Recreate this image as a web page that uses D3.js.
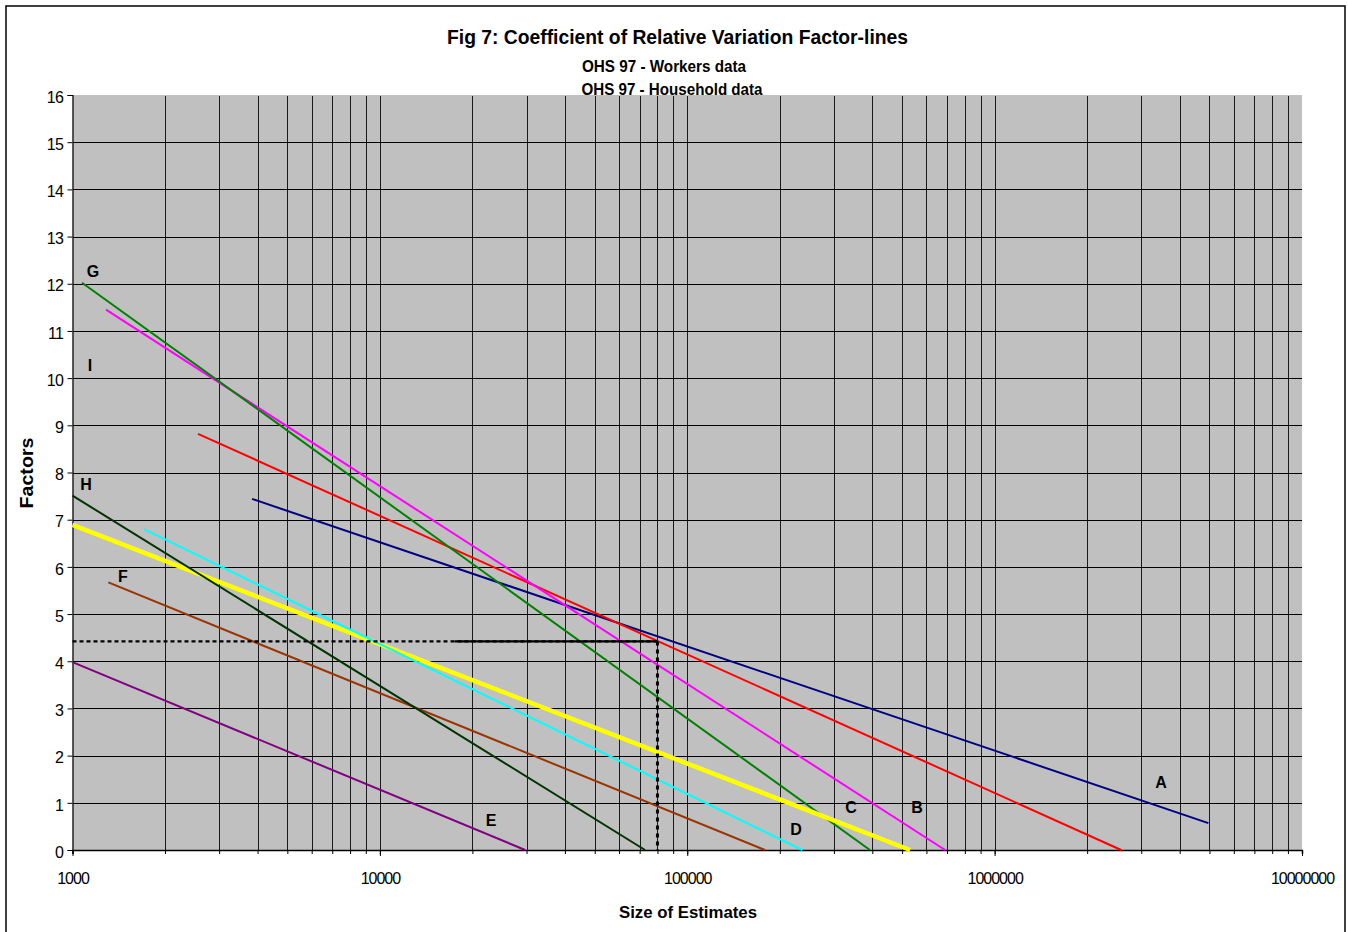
<!DOCTYPE html>
<html>
<head>
<meta charset="utf-8">
<script src="https://cdn.jsdelivr.net/npm/d3@7"></script>
<style>
  html, body { margin: 0; padding: 0; background: #fff; }
  svg { display: block; font-family: "Liberation Sans", Arial, sans-serif; }
</style>
</head>
<body>
<svg id="chart" width="1348" height="932"></svg>
<script>
// ---------- data ----------
const titleText = "Fig 7: Coefficient of Relative Variation Factor-lines";
const subtitle1 = "OHS 97 - Workers data";
const subtitle2 = "OHS 97 - Household data";
const xAxisTitle = "Size of Estimates";
const yAxisTitle = "Factors";

const xTickValues = [1000, 10000, 100000, 1000000, 10000000];
const xTickLabels = ["1000", "10000", "100000", "1000000", "10000000"];
const yTickValues = [0,1,2,3,4,5,6,7,8,9,10,11,12,13,14,15,16];

// factor lines: start/end points (size of estimate, factor)
const lineNames = ["A", "red", "B", "C", "yellow", "D", "F", "H", "E"];
const lineX = [
  [3840, 4960000],
  [2560, 2580000],
  [1285, 690000],
  [1074, 393000],
  [1000, 531000],
  [1710, 237000],
  [1308, 179000],
  [1000, 72900],
  [1000, 29700]
];
const lineY = [
  [7.44, 0.57],
  [8.82, 0],
  [11.45, 0],
  [12.02, 0],
  [6.89, 0],
  [6.80, 0],
  [5.67, 0],
  [7.51, 0],
  [3.98, 0]
];

// line letter labels
const labelText = ["A", "B", "C", "D", "E", "F", "G", "H", "I"];
const labelX = [3480000, 559000, 341000, 226000, 23000, 1459, 1166, 1107, 1140];
const labelY = [1.44, 0.91, 0.91, 0.45, 0.64, 5.81, 12.26, 7.76, 10.28];

// reading example: estimate 80000 -> factor 4.42
const refX = [1000, 17500, 80000];
const refY = 4.42;

// ---------- styles ----------
const lineColors = ["#000080", "#FF0000", "#FF00FF", "#008000", "#FFFF00", "#00FFFF", "#993300", "#003300", "#800080"];
const lineWidths = [2, 2, 2, 2, 4.5, 2, 2, 2, 2];

// ---------- layout ----------
const svg = d3.select("#chart");
const plot = { left: 72.5, right: 1302, top: 95, bottom: 850 };

const x = d3.scaleLog().domain([1000, 10000000]).range([plot.left, plot.right]);
const y = d3.scaleLinear().domain([0, 16]).range([plot.bottom, plot.top]);

// outer frame
svg.append("rect")
  .attr("x", 6).attr("y", 6).attr("width", 1339).attr("height", 940)
  .attr("fill", "#fff").attr("stroke", "#000").attr("stroke-width", 1.5);

// plot background
svg.append("rect")
  .attr("x", plot.left).attr("y", plot.top)
  .attr("width", plot.right - plot.left).attr("height", plot.bottom - plot.top)
  .attr("fill", "#C0C0C0");

// vertical grid (log minors + majors)
const allXTicks = [];
for (let d = 1000; d < 10000000; d *= 10) {
  for (let k = 1; k <= 9; k++) allXTicks.push(d * k);
}
allXTicks.push(10000000);

const gGrid = svg.append("g").attr("shape-rendering", "crispEdges");
gGrid.selectAll("line.vg")
  .data(allXTicks.filter(v => v > 1000 && v < 10000000))
  .join("line")
  .attr("class", "vg")
  .attr("x1", d => Math.round(x(d)) + 0.5).attr("x2", d => Math.round(x(d)) + 0.5)
  .attr("y1", plot.top + 1).attr("y2", plot.bottom)
  .attr("stroke", "#1a1a1a").attr("stroke-width", 1);

// horizontal grid
gGrid.selectAll("line.hg")
  .data(yTickValues.filter(v => v > 0 && v < 16))
  .join("line")
  .attr("class", "hg")
  .attr("x1", plot.left).attr("x2", plot.right)
  .attr("y1", d => Math.round(y(d)) + 0.5).attr("y2", d => Math.round(y(d)) + 0.5)
  .attr("stroke", "#000").attr("stroke-width", 1);

// y axis
const yAxis = d3.axisLeft(y).tickValues(yTickValues).tickSize(5).tickPadding(4).tickFormat(d3.format("d"));
const gy = svg.append("g").attr("transform", `translate(${plot.left},0)`).call(yAxis);
gy.select(".domain").attr("stroke", "#000").attr("stroke-width", 1.2);
gy.selectAll(".tick line").attr("stroke", "#000");
gy.selectAll(".tick text")
  .attr("font-family", "Liberation Sans, Arial, sans-serif")
  .attr("font-size", 16).attr("fill", "#000")
  .attr("letter-spacing", "-0.5px")
  .attr("dy", "0.45em");

// x axis: minor ticks
const xAxisMinor = d3.axisBottom(x).tickValues(allXTicks).tickSize(4).tickFormat("");
const gxm = svg.append("g").attr("transform", `translate(0,${plot.bottom})`).call(xAxisMinor);
gxm.select(".domain").attr("stroke", "#000").attr("stroke-width", 1.5);
gxm.selectAll(".tick line").attr("stroke", "#000");

// x axis: major ticks + labels
const xAxisMajor = d3.axisBottom(x).tickValues(xTickValues).tickSize(6).tickPadding(17)
  .tickFormat((d, i) => xTickLabels[i]);
const gx = svg.append("g").attr("transform", `translate(0,${plot.bottom})`).call(xAxisMajor);
gx.select(".domain").remove();
gx.selectAll(".tick line").attr("stroke", "#000");
gx.selectAll(".tick text")
  .attr("font-family", "Liberation Sans, Arial, sans-serif")
  .attr("font-size", 16).attr("fill", "#000")
  .attr("letter-spacing", "-1px");

// factor lines
const lineGen = d3.line().x(d => x(d[0])).y(d => y(d[1]));
const gLines = svg.append("g");
lineNames.forEach((name, i) => {
  const pts = lineX[i].map((v, j) => [v, lineY[i][j]]);
  gLines.append("path")
    .datum(pts)
    .attr("d", lineGen)
    .attr("fill", "none")
    .attr("stroke", lineColors[i])
    .attr("stroke-width", lineWidths[i]);
});

// reference reading lines
svg.append("line")
  .attr("x1", x(refX[0])).attr("x2", x(refX[2]))
  .attr("y1", y(refY)).attr("y2", y(refY))
  .attr("stroke", "#000").attr("stroke-width", 2.2)
  .attr("stroke-dasharray", "4,3");
svg.append("line")
  .attr("x1", x(refX[1])).attr("x2", x(refX[2]))
  .attr("y1", y(refY)).attr("y2", y(refY))
  .attr("stroke", "#000").attr("stroke-width", 2.2);
svg.append("line")
  .attr("x1", x(refX[2])).attr("x2", x(refX[2]))
  .attr("y1", y(refY)).attr("y2", y(0))
  .attr("stroke", "#000").attr("stroke-width", 3)
  .attr("stroke-dasharray", "4,4");

// letter labels
svg.append("g").selectAll("text")
  .data(labelText)
  .join("text")
  .attr("x", (d, i) => x(labelX[i]))
  .attr("y", (d, i) => y(labelY[i]))
  .attr("text-anchor", "middle")
  .attr("dy", "0.36em")
  .attr("font-size", 16).attr("font-weight", "bold").attr("fill", "#000")
  .text(d => d);

// titles
svg.append("text")
  .attr("x", 677.5).attr("y", 44)
  .attr("text-anchor", "middle")
  .attr("font-size", 21).attr("font-weight", "bold")
  .attr("textLength", 461).attr("lengthAdjust", "spacingAndGlyphs")
  .text(titleText);
svg.append("text")
  .attr("x", 664).attr("y", 72)
  .attr("text-anchor", "middle")
  .attr("font-size", 16).attr("font-weight", "bold")
  .attr("textLength", 164).attr("lengthAdjust", "spacingAndGlyphs")
  .text(subtitle1);
svg.append("text")
  .attr("x", 672).attr("y", 95)
  .attr("text-anchor", "middle")
  .attr("font-size", 16).attr("font-weight", "bold")
  .attr("textLength", 181).attr("lengthAdjust", "spacingAndGlyphs")
  .text(subtitle2);

// axis titles
svg.append("text")
  .attr("x", 688).attr("y", 918)
  .attr("text-anchor", "middle")
  .attr("font-size", 17).attr("font-weight", "bold")
  .attr("textLength", 138).attr("lengthAdjust", "spacingAndGlyphs")
  .text(xAxisTitle);
svg.append("text")
  .attr("transform", "translate(33,473) rotate(-90)")
  .attr("text-anchor", "middle")
  .attr("font-size", 18).attr("font-weight", "bold")
  .attr("textLength", 71).attr("lengthAdjust", "spacingAndGlyphs")
  .text(yAxisTitle);
</script>
</body>
</html>
